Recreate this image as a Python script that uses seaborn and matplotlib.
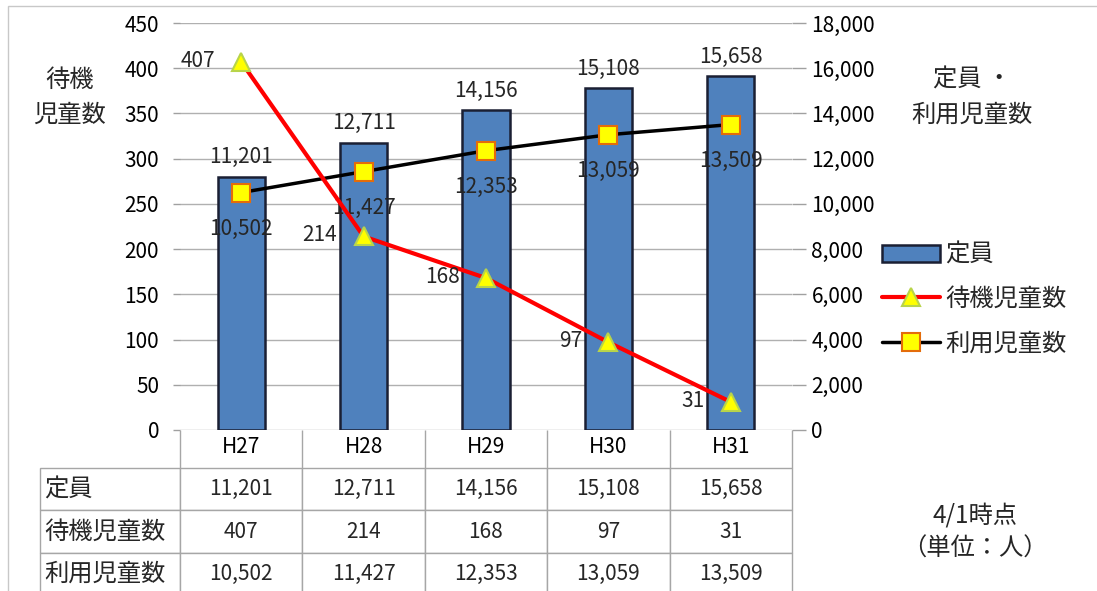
import matplotlib
matplotlib.use('Agg')
import matplotlib.pyplot as plt
from matplotlib.ticker import MultipleLocator, StrMethodFormatter
from matplotlib.patches import Rectangle
import seaborn as sns

# データ (4/1時点、単位：人)
years = ['H27', 'H28', 'H29', 'H30', 'H31']
teiin = [11201, 12711, 14156, 15108, 15658]    # 定員
taiki = [407, 214, 168, 97, 31]                # 待機児童数
riyou = [10502, 11427, 12353, 13059, 13509]    # 利用児童数
row_names = ['定員', '待機児童数', '利用児童数']

NUM_FS = 15    # 数字
JP_FS = 17.5   # 日本語

sns.set_theme(style='white')
plt.rcParams['font.family'] = ['Noto Sans CJK JP', 'DejaVu Sans']

W, H = 1097, 591
fig = plt.figure(figsize=(W / 100, H / 100), dpi=100)
fig.patch.set_facecolor('white')

ax = fig.add_axes([180 / W, 1 - 430 / H, 612 / W, 407 / H])
ax2 = ax.twinx()
ax.set_zorder(ax2.get_zorder() + 1)
ax.patch.set_visible(False)

# 棒グラフ: 定員 (右軸)
sns.barplot(x=years, y=teiin, ax=ax2, color='#4F81BD', saturation=1,
            edgecolor='#1A1F33', linewidth=1.8, width=0.385)

# 折れ線: 利用児童数 (右軸)
sns.pointplot(x=years, y=riyou, ax=ax2, color='black', errorbar=None,
              markers='s', linewidth=2.5, markersize=13)
line_riyou = ax2.lines[-1]
line_riyou.set_markerfacecolor('#FFFF00')
line_riyou.set_markeredgecolor('#E46C0A')
line_riyou.set_markeredgewidth(1.5)
line_riyou.set_zorder(5)

# 折れ線: 待機児童数 (左軸)
sns.pointplot(x=years, y=taiki, ax=ax, color='#FF0000', errorbar=None,
              markers='^', linewidth=3, markersize=13)
line_taiki = ax.lines[-1]
line_taiki.set_markerfacecolor('#FFFF00')
line_taiki.set_markeredgecolor('#B8D44A')
line_taiki.set_markeredgewidth(1.5)

# 軸の設定
ax.set_xlim(-0.5, len(years) - 0.5)
ax.set_ylim(0, 450)
ax2.set_ylim(0, 18000)
ax.yaxis.set_major_locator(MultipleLocator(50))
ax2.yaxis.set_major_locator(MultipleLocator(2000))
ax2.yaxis.set_major_formatter(StrMethodFormatter('{x:,.0f}'))
ax.set_xticks(range(len(years)))
ax.set_xticklabels(years)
for a in (ax, ax2):
    a.set_xlabel('')
    a.set_ylabel('')
    for s in a.spines.values():
        s.set_visible(False)
ax.grid(False)
ax2.grid(False)
ax2.yaxis.grid(True, color='#B0B0B0', linewidth=1)
ax2.set_axisbelow(True)

ax.tick_params(axis='y', left=True, length=5, width=1, color='#A0A0A0',
               pad=10, labelsize=NUM_FS, labelcolor='black')
ax2.tick_params(axis='y', right=True, length=10, width=1, color='#A0A0A0',
                pad=4, labelsize=NUM_FS, labelcolor='black')
ax.tick_params(axis='x', bottom=False, length=0, pad=4, labelsize=NUM_FS,
               labelcolor='black')

# データラベル
for i, v in enumerate(teiin):
    ax2.annotate(f'{v:,}', (i, v), xytext=(0, 6), textcoords='offset points',
                 ha='center', va='bottom', fontsize=NUM_FS)
for i, v in enumerate(riyou):
    ax2.annotate(f'{v:,}', (i, v), xytext=(0, -26), textcoords='offset points',
                 ha='center', va='center', fontsize=NUM_FS, zorder=6)
for i, v in enumerate(taiki):
    ax.annotate(f'{v}', (i, v), xytext=(-19, 1), textcoords='offset points',
                ha='right', va='center', fontsize=NUM_FS)

# データテーブル
cells = [[name] + [f'{v:,}' for v in vals]
         for name, vals in zip(row_names, [teiin, taiki, riyou])]
tbl = ax.table(cellText=cells, cellLoc='center',
               colWidths=[140] + [122.4] * len(years),
               bbox=[-140 / 612, -165 / 407, 752 / 612, 127 / 407])
tbl.auto_set_font_size(False)
tbl.set_fontsize(NUM_FS)
for (r, c), cell in tbl.get_celld().items():
    cell.set_edgecolor('#A6A6A6')
    cell.set_linewidth(1)
    if c == 0:
        cell._loc = 'left'
        cell.PAD = 0.03
        cell.get_text().set_ha('left')
        cell.get_text().set_fontsize(JP_FS)
ax.vlines([i - 0.5 for i in range(len(years) + 1)], -38 / 407, 0,
          transform=ax.get_xaxis_transform(), colors='#A6A6A6',
          linewidth=1, clip_on=False)

# 軸タイトル・注記
fig.text(70 / W, 1 - 97 / H, '待機\n児童数', ha='center', va='center',
         fontsize=JP_FS, linespacing=1.45)
fig.text(972 / W, 1 - 97 / H, '定員 ・\n利用児童数', ha='center', va='center',
         fontsize=JP_FS, linespacing=1.45)
fig.text(975 / W, 1 - 532 / H, '4/1時点\n（単位：人）', ha='center', va='center',
         fontsize=JP_FS, linespacing=1.35)

# 凡例
handles = [ax2.containers[0], line_taiki, line_riyou]
fig.legend(handles, row_names, loc='center left',
           bbox_to_anchor=(882 / W, 1 - 299 / H), frameon=False, fontsize=JP_FS,
           handlelength=2.4, handletextpad=0.2, labelspacing=0.75,
           borderaxespad=0, borderpad=0)

# 外枠
fig.add_artist(Rectangle((8 / W, -0.1), 1.2, 1.1 - 6 / H,
                         transform=fig.transFigure, fill=False,
                         edgecolor='#C8C8C8', linewidth=1))

fig.savefig('out.png', dpi=100)
